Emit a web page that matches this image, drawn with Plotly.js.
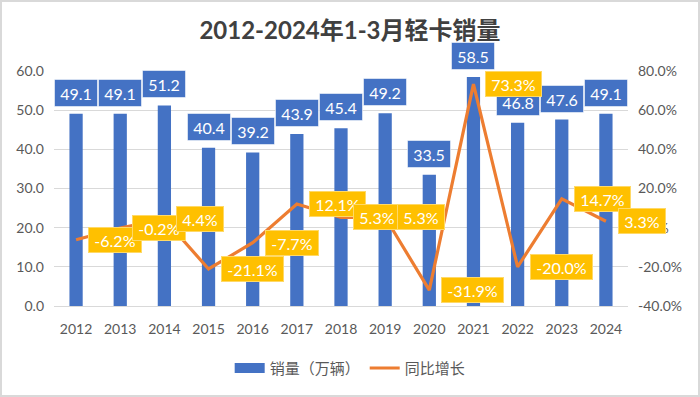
<!DOCTYPE html>
<html><head><meta charset="utf-8">
<script src="https://cdn.plot.ly/plotly-3.0.1.min.js"></script>
<style>
html,body{margin:0;padding:0;background:#fff;}
body{position:relative;width:700px;height:397px;overflow:hidden;}
#chart{width:700px;height:397px;}
#frame{position:absolute;left:0;top:0;width:700px;height:397px;box-sizing:border-box;border:2px solid #d9d9d9;pointer-events:none;}
</style>
</head><body><div id="chart"></div><div id="frame"></div>
<script>
// ---- data ----
const years = ['2012','2013','2014','2015','2016','2017','2018','2019','2020','2021','2022','2023','2024'];
const sales = [49.1, 49.1, 51.2, 40.4, 39.2, 43.9, 45.4, 49.2, 33.5, 58.5, 46.8, 47.6, 49.1];
const growth = [-6.2, -0.2, 4.4, -21.1, -7.7, 12.1, 5.3, 5.3, -31.9, 73.3, -20.0, 14.7, 3.3];
const leftTicks = [0, 10, 20, 30, 40, 50, 60];
const rightTicks = [-40, -20, 0, 20, 40, 60, 80];
const titleText = '2012-2024年1-3月轻卡销量';
const salesName = '销量（万辆）';
const growthName = '同比增长';

// ---- style ----
const BLUE = '#4472C4', ORANGE = '#ED7D31', GOLD = '#FFC000';
const AXIS_TXT = '#595959', GRID = '#D9D9D9';
const LAT = 'Lato, "Noto Sans CJK SC", sans-serif';
const CJK = '"Noto Sans CJK SC", Lato, sans-serif';

const cv = document.createElement('canvas').getContext('2d');
cv.font = '16px Lato';
const tw = s => Math.ceil(cv.measureText(s).width);

const bar = {
  type: 'bar', x: years, y: sales, width: 0.3,
  marker: {color: BLUE}, showlegend: false, hoverinfo: 'skip', name: salesName
};
const barLegend = {
  type: 'scatter', mode: 'lines', x: [years[0]], y: [null],
  line: {color: BLUE, width: 11}, name: salesName, hoverinfo: 'skip'
};
const line = {
  type: 'scatter', mode: 'lines', x: years, y: growth, yaxis: 'y2',
  line: {color: ORANGE, width: 3.2}, name: growthName, hoverinfo: 'skip'
};

const annotations = [];
years.forEach((yr, i) => {
  annotations.push({
    x: i, y: sales[i], xref: 'x', yref: 'y',
    text: sales[i].toFixed(1), showarrow: false,
    xanchor: 'center', yanchor: 'bottom', yshift: 7,
    width: 40, height: 24, borderpad: 1, borderwidth: 1,
    bgcolor: BLUE, bordercolor: 'rgba(255,255,255,0.55)',
    font: {family: LAT, size: 16, color: '#FFFFFF'}
  });
});
years.forEach((yr, i) => {
  const t = growth[i].toFixed(1) + '%';
  annotations.push({
    x: i, y: growth[i], xref: 'x', yref: 'y2',
    text: t, showarrow: false,
    xanchor: 'left', yanchor: 'middle', xshift: 12,
    width: tw(t) + 8, height: 22, borderpad: 1, borderwidth: 1,
    bgcolor: GOLD, bordercolor: '#FFD966',
    font: {family: LAT, size: 16, color: '#FFFFFF'}
  });
});

const layout = {
  width: 700, height: 397,
  paper_bgcolor: '#FFFFFF', plot_bgcolor: '#FFFFFF',
  margin: {l: 54, r: 72, t: 71, b: 88},
  title: {
    text: titleText, x: 0.5, xref: 'container', xanchor: 'center',
    y: 1 - 31/397, yref: 'container', yanchor: 'middle',
    font: {family: LAT, size: 24, color: '#404040', weight: 'bold'}
  },
  showlegend: true,
  legend: {
    orientation: 'h', x: 0.516, xanchor: 'center', y: -0.265, yanchor: 'middle',
    font: {family: CJK, size: 15, color: AXIS_TXT}, itemwidth: 30, traceorder: 'normal'
  },
  xaxis: {
    type: 'category', categoryorder: 'array', categoryarray: years,
    range: [-0.5, years.length - 0.5], autorange: false,
    showgrid: false, zeroline: false,
    showline: true, linecolor: GRID, linewidth: 1, ticks: '',
    ticklabelstandoff: 10,
    tickfont: {family: LAT, size: 14, color: AXIS_TXT}
  },
  yaxis: {
    range: [0, 60], autorange: false, tickvals: leftTicks, tickformat: '.1f',
    showgrid: true, gridcolor: GRID, gridwidth: 1, zeroline: false, showline: false,
    ticks: '', ticklabelstandoff: 9,
    tickfont: {family: LAT, size: 14, color: AXIS_TXT}
  },
  yaxis2: {
    overlaying: 'y', side: 'right', range: [-40, 80], autorange: false,
    tickvals: rightTicks, ticktext: rightTicks.map(v => v.toFixed(1) + '%'),
    showgrid: false, zeroline: false, showline: false, ticks: '', ticklabelstandoff: 9,
    tickfont: {family: LAT, size: 14, color: AXIS_TXT}
  },
  annotations: annotations,
  bargap: 0.7
};

Plotly.newPlot('chart', [bar, barLegend, line], layout, {staticPlot: true, displayModeBar: false});
</script>
</body></html>
